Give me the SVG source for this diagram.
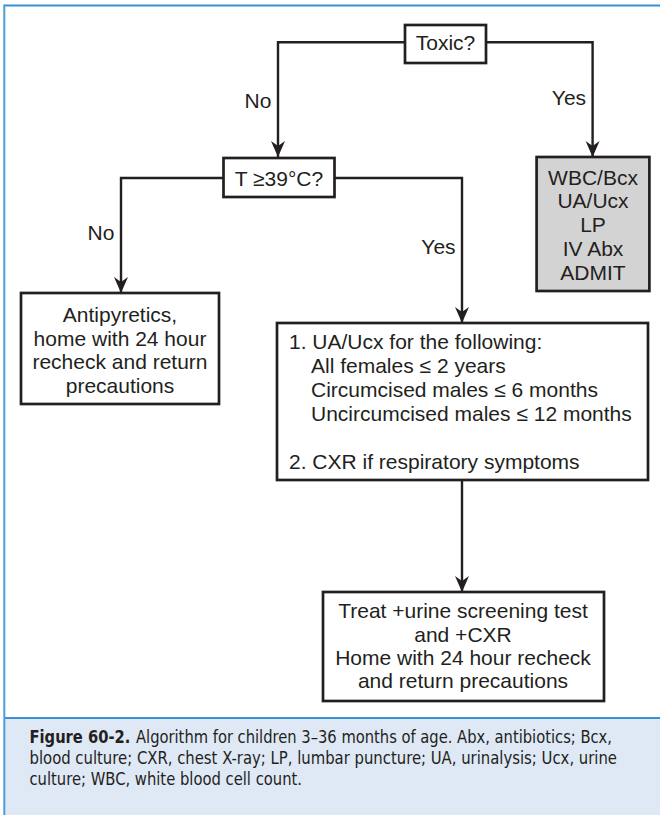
<svg xmlns="http://www.w3.org/2000/svg" width="660" height="815" viewBox="0 0 660 815">
<style>
.box{fill:#ffffff;stroke:#231f20;stroke-width:2.7}
.gray{fill:#d3d3d4}
.t{font-family:"Liberation Sans",Arial,"DejaVu Sans",sans-serif;font-size:21px;fill:#231f20}
.c{text-anchor:middle}
.conn{fill:none;stroke:#231f20;stroke-width:2.4}
.cap{font-family:"Liberation Sans Narrow","DejaVu Sans Condensed","Liberation Sans",sans-serif;font-size:17.5px;fill:#231f20}
</style>
<defs>
<marker id="arr" markerUnits="userSpaceOnUse" viewBox="0 0 16 16" markerWidth="16" markerHeight="16" refX="16" refY="8" orient="auto">
<path d="M0,1 L16,8 L0,15 L5,8 Z" fill="#231f20"/>
</marker>
</defs>
<rect x="0" y="0" width="660" height="815" fill="#ffffff"/>
<g id="frame">
<rect x="5" y="718" width="655" height="97" fill="#dfe8f5"/>
<line x1="5" y1="718" x2="660" y2="718" stroke="#3b8fd4" stroke-width="2"/>
<line x1="4.3" y1="5.5" x2="660" y2="5.5" stroke="#3b8fd4" stroke-width="2"/>
<line x1="4.3" y1="4.5" x2="4.3" y2="815" stroke="#4a9fd8" stroke-width="2"/>
</g>
<g id="connectors">
<path class="conn" d="M405,42.3 H278 V157" marker-end="url(#arr)"/>
<path class="conn" d="M486,42.3 H592.6 V157" marker-end="url(#arr)"/>
<path class="conn" d="M223.5,178 H121 V293" marker-end="url(#arr)"/>
<path class="conn" d="M334.6,178 H462 V323" marker-end="url(#arr)"/>
<path class="conn" d="M462,480 V592" marker-end="url(#arr)"/>
<text class="t c" x="258" y="108">No</text>
<text class="t c" x="569" y="105">Yes</text>
<text class="t c" x="101" y="240">No</text>
<text class="t c" x="438.5" y="254">Yes</text>
</g>
<g id="toxic">
<rect class="box" x="405" y="25" width="81" height="38"/>
<text class="t c" x="445.5" y="49.5">Toxic?</text>
</g>
<g id="temp">
<rect class="box" x="223.5" y="158" width="111" height="39"/>
<text class="t c" x="279" y="185.5">T ≥39°C?</text>
</g>
<g id="admit">
<rect class="box gray" x="536.6" y="157" width="112.8" height="134"/>
<text class="t c" x="593" y="184.5">WBC/Bcx</text>
<text class="t c" x="593" y="208.3">UA/Ucx</text>
<text class="t c" x="593" y="232.1">LP</text>
<text class="t c" x="593" y="255.9">IV Abx</text>
<text class="t c" x="593" y="279.7">ADMIT</text>
</g>
<g id="antipyretics">
<rect class="box" x="21" y="293" width="198" height="111"/>
<text class="t c" x="120" y="322">Antipyretics,</text>
<text class="t c" x="120" y="345.7">home with 24 hour</text>
<text class="t c" x="120" y="369.4">recheck and return</text>
<text class="t c" x="120" y="393">precautions</text>
</g>
<g id="workup">
<rect class="box" x="277" y="323" width="371" height="157"/>
<text class="t" x="289" y="349">1. UA/Ucx for the following:</text>
<text class="t" x="311" y="373">All females ≤ 2 years</text>
<text class="t" x="311" y="397">Circumcised males ≤ 6 months</text>
<text class="t" x="311" y="421">Uncircumcised males ≤ 12 months</text>
<text class="t" x="289" y="469">2. CXR if respiratory symptoms</text>
</g>
<g id="treat">
<rect class="box" x="323" y="592" width="281" height="109"/>
<text class="t c" x="463" y="618.3">Treat +urine screening test</text>
<text class="t c" x="463" y="641.7">and +CXR</text>
<text class="t c" x="463" y="665">Home with 24 hour recheck</text>
<text class="t c" x="463" y="688.3">and return precautions</text>
</g>
<g id="caption">
<text class="cap" x="29.5" y="743" textLength="582.5" lengthAdjust="spacingAndGlyphs"><tspan font-weight="bold">Figure 60-2.</tspan><tspan dx="6">Algorithm for children 3–36 months of age. Abx, antibiotics; Bcx,</tspan></text>
<text class="cap" x="29.5" y="764" textLength="587.5" lengthAdjust="spacingAndGlyphs">blood culture; CXR, chest X-ray; LP, lumbar puncture; UA, urinalysis; Ucx, urine</text>
<text class="cap" x="29.5" y="785" textLength="272.5" lengthAdjust="spacingAndGlyphs">culture; WBC, white blood cell count.</text>
</g>
</svg>
